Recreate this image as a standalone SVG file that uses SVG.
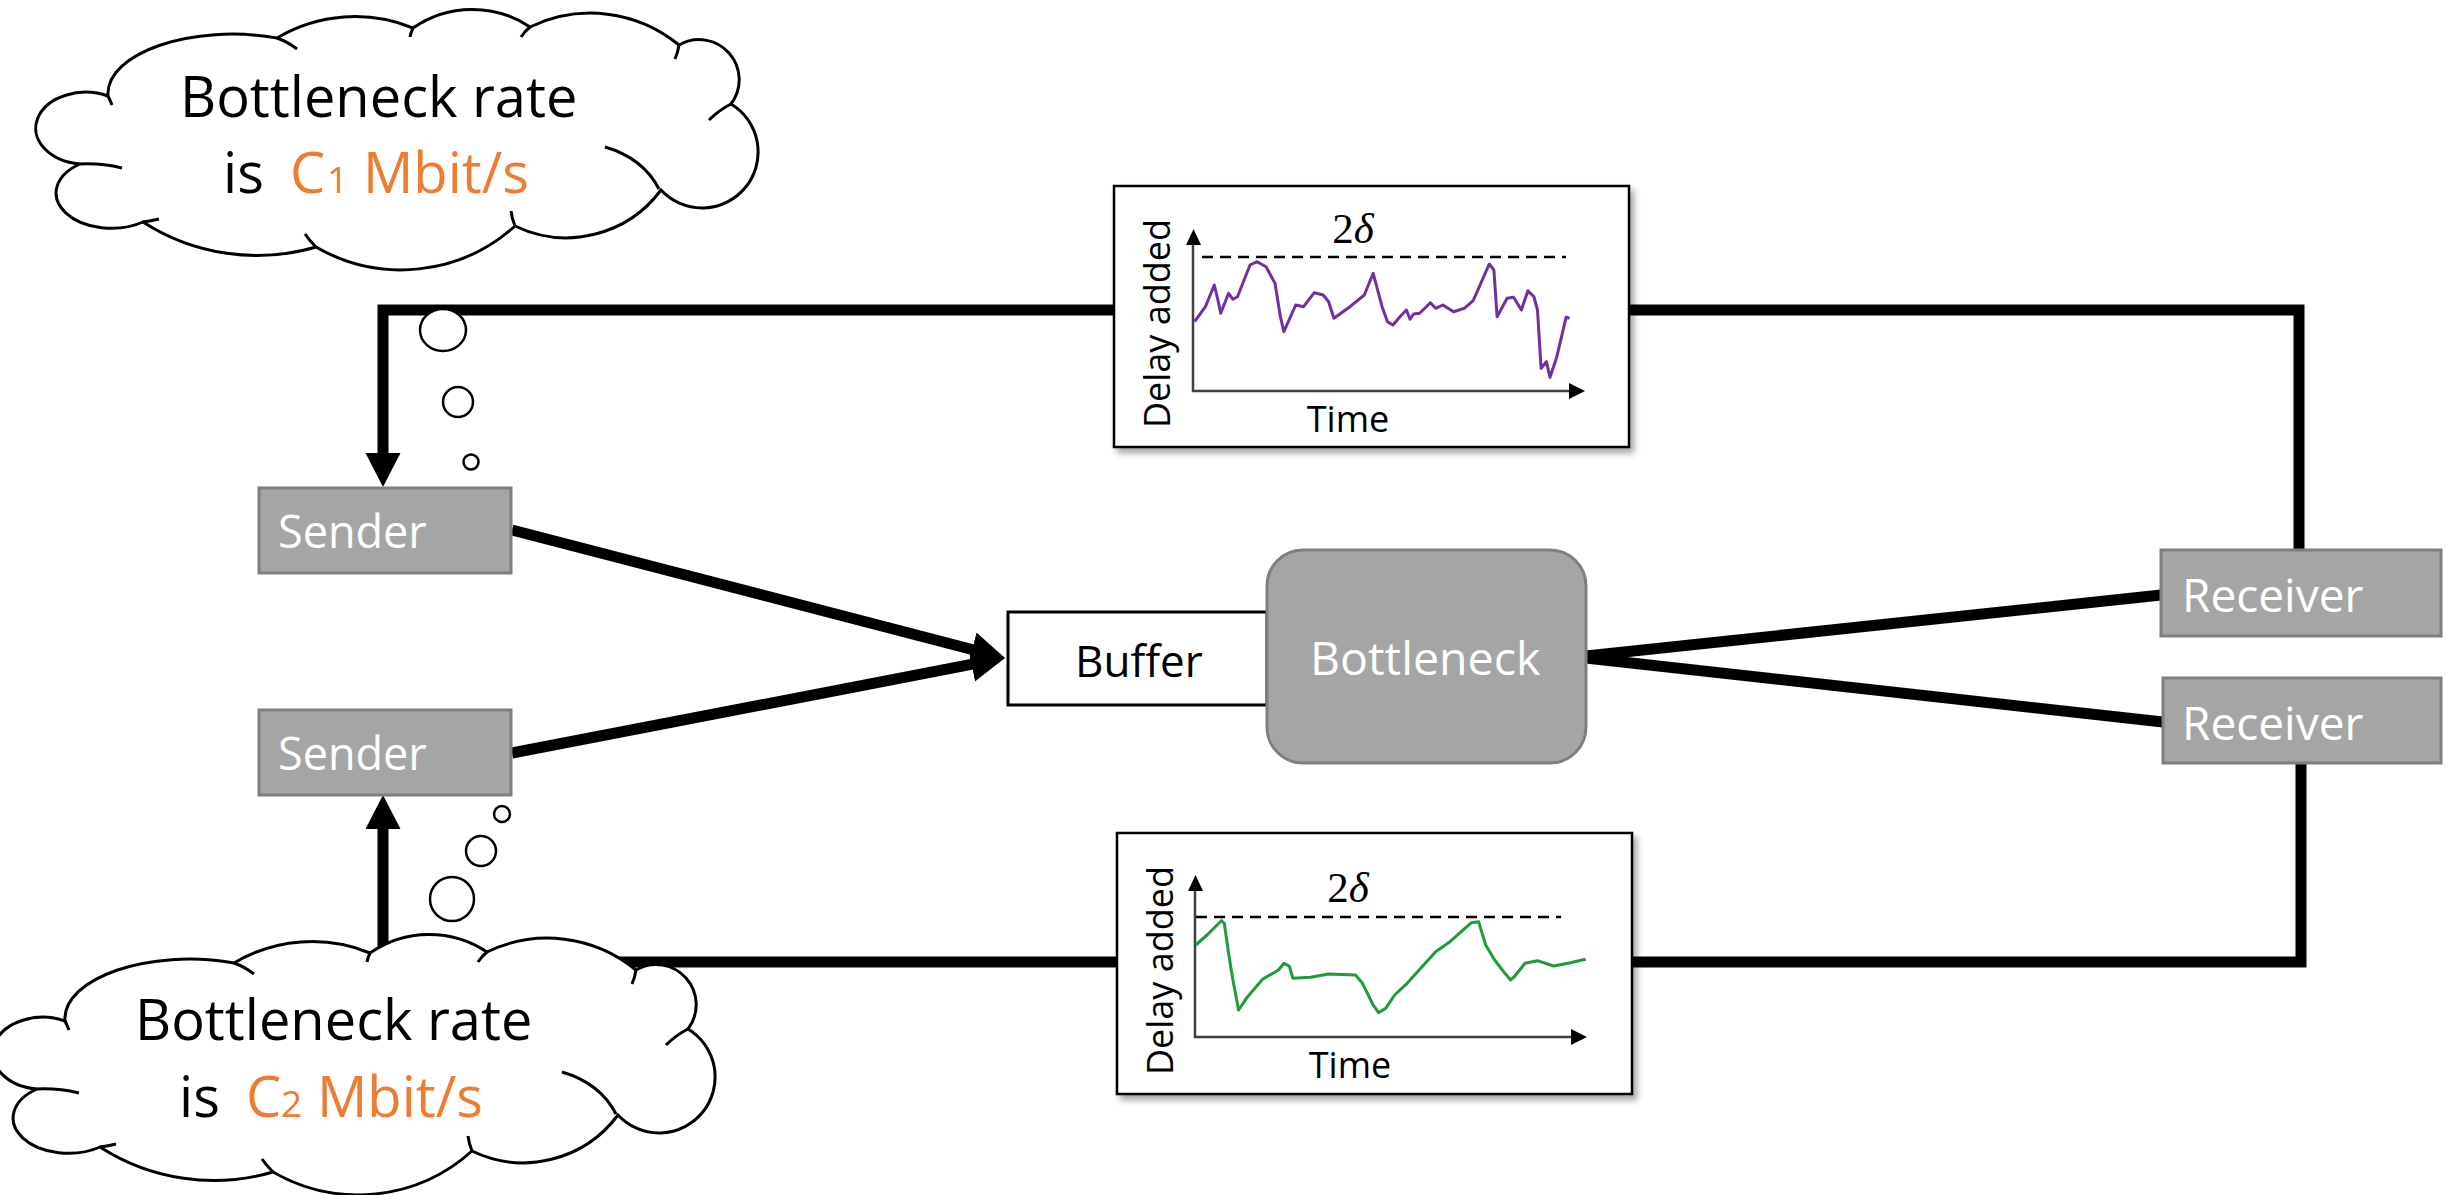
<svg xmlns="http://www.w3.org/2000/svg" width="2458" height="1195" viewBox="0 0 2458 1195">
<defs>
<style>
.conn{fill:none;stroke:#000;stroke-width:11;stroke-linejoin:miter;stroke-linecap:butt}
.gbox{fill:#A5A5A5;stroke:#7F7F7F;stroke-width:3}
.wlabel{font-family:"Open Sans","Noto Sans",sans-serif;fill:#fff}
.blabel{font-family:"Open Sans","Noto Sans",sans-serif;fill:#000}
.cloud{fill:#fff;stroke:#000;stroke-width:3}
.hook{fill:none;stroke:#000;stroke-width:3}
.bubble{fill:#fff;stroke:#000;stroke-width:2.5}
.chart{fill:#fff;stroke:#000;stroke-width:2.5}
.axis{fill:none;stroke:#404040;stroke-width:2.5}
.dash{fill:none;stroke:#000;stroke-width:2.5;stroke-dasharray:11 7}
.ctext{font-family:"Open Sans","Noto Sans",sans-serif;font-size:36px;fill:#000}
.math{font-family:"Liberation Serif","DejaVu Serif",serif;font-size:43px;fill:#000}
.orange{fill:#ED7D31}
</style>
<marker id="ah" markerUnits="userSpaceOnUse" markerWidth="40" markerHeight="40" refX="1" refY="17.5" orient="auto" viewBox="0 0 40 40">
<path d="M0,0 L34,17.5 L0,35 Z" fill="#000"/>
</marker>
<filter id="shadow" x="-10%" y="-10%" width="130%" height="130%">
<feDropShadow dx="4" dy="5" stdDeviation="3" flood-color="#000" flood-opacity="0.35"/>
</filter>
<path id="cloudShape" d="M65,88 C62,45 150,15 234,30 A153,153 0 0 1 370,20 A104,104 0 0 1 487,19 A139,139 0 0 1 636,37 A40.1,40.1 0 0 1 688,96 A56,56 0 1 1 618,182 A118,118 0 0 1 472,218 A170,170 0 0 1 273,239 A210,210 0 0 1 100,214 A55,35 0 0 1 37,156 A50,36 0 1 1 65,88 Z"/>
<path id="cloudHooks" d="M65,88 Q67,92 69,97 M234,30 Q245,34 254,41 M370,20 Q368,24 367,29 M487,19 Q482,23 478,29 M636,37 Q635,44 632,51 M688,96 Q676,102 666,112 M562,139 Q600,150 616,181 M472,218 Q469,211 468,203 M273,239 Q266,232 262,226 M100,214 Q108,213 116,211 M37,156 Q58,155 79,160"/>
</defs>
<rect x="0" y="0" width="2458" height="1195" fill="#fff"/>

<g id="connectors">
<path class="conn" d="M2299,550 V310 H383 V454" marker-end="url(#ah)"/>
<path class="conn" d="M2301,763 V962 H383 V828" marker-end="url(#ah)"/>
<path class="conn" d="M512,530 L973.1,649.7" marker-end="url(#ah)"/>
<path class="conn" d="M512,753 L972.6,664.2" marker-end="url(#ah)"/>
<path class="conn" d="M1586,656 L2161,595"/>
<path class="conn" d="M1586,658 L2163,722"/>
</g>

<g id="sender1">
<rect class="gbox" x="259" y="488" width="252" height="85"/>
<text class="wlabel" x="278" y="548" font-size="45">Sender</text>
</g>
<g id="sender2">
<rect class="gbox" x="259" y="710" width="252" height="85"/>
<text class="wlabel" x="278" y="770" font-size="45">Sender</text>
</g>
<g id="buffer">
<rect x="1008" y="612" width="259" height="93" fill="#fff" stroke="#000" stroke-width="3"/>
<text class="blabel" x="1075" y="677" font-size="44">Buffer</text>
</g>
<g id="bottleneck">
<rect class="gbox" x="1267" y="550" width="319" height="213" rx="36" ry="36"/>
<text class="wlabel" x="1310" y="675" font-size="46.5">Bottleneck</text>
</g>
<g id="receiver1">
<rect class="gbox" x="2161" y="550" width="280" height="86"/>
<text class="wlabel" x="2182" y="612" font-size="46">Receiver</text>
</g>
<g id="receiver2">
<rect class="gbox" x="2163" y="678" width="278" height="85"/>
<text class="wlabel" x="2182" y="740" font-size="46">Receiver</text>
</g>

<g id="chart-top">
<rect class="chart" x="1114" y="186" width="515" height="261" filter="url(#shadow)"/>
<path class="axis" d="M1193,243 V391 H1572"/>
<path d="M1186,245 L1193.5,229 L1201,245 Z" fill="#000"/>
<path d="M1569,383 L1585,391 L1569,399 Z" fill="#000"/>
<path class="dash" d="M1202,257 H1566"/>
<polyline fill="none" stroke="#7030A0" stroke-width="3" stroke-linejoin="round" points="1194.6,321.7 1205.4,306.7 1214.3,285 1217.9,300 1220.7,313.3 1228.6,293.3 1232.9,299.3 1237.5,296.7 1250,265 1257.1,261.7 1266,266.7 1275,283.3 1280.4,316.7 1283.9,331.7 1295.7,305 1303.6,306.7 1314.3,292.7 1323.2,295 1328.6,301.7 1333.9,318.3 1350,306.7 1364.3,295 1373.2,273.3 1382.1,306.7 1387.5,321.7 1392.9,325 1400,316.7 1406.4,310 1410,319.3 1413.6,314 1419.6,313.3 1430.4,302.7 1435.7,308.3 1442.9,305 1453.6,311.7 1464.3,308.3 1473.2,300.7 1489.3,264 1493.9,270 1497.1,316.7 1507.1,298.3 1513.6,297.3 1521.4,310 1527.9,290.7 1533.9,296.7 1537.5,310 1541.1,368.3 1546.4,361.7 1550,377.3 1556.4,358.3 1566.1,317.3 1569.6,318.3"/>
<text class="math" x="1353" y="243" text-anchor="middle">2<tspan font-style="italic">δ</tspan></text>
<text class="ctext" x="1170" y="323.5" text-anchor="middle" transform="rotate(-90 1170 323.5)">Delay added</text>
<text class="ctext" x="1348" y="432" text-anchor="middle">Time</text>
</g>

<g id="chart-bottom">
<rect class="chart" x="1117" y="833" width="515" height="261" filter="url(#shadow)"/>
<path class="axis" d="M1195,889 V1037 H1574"/>
<path d="M1188,891 L1195.5,875 L1203,891 Z" fill="#000"/>
<path d="M1571,1029 L1587,1037 L1571,1045 Z" fill="#000"/>
<path class="dash" d="M1196,917 H1561"/>
<polyline fill="none" stroke="#1E9B3C" stroke-width="3" stroke-linejoin="round" points="1195.7,945 1207.1,935 1221.4,920.7 1224.3,923.3 1228.6,953.3 1232.9,980 1238.6,1010 1246.4,998.3 1262.5,979.3 1278.6,970 1283.9,963.3 1289.3,966 1292.9,978.3 1310.7,977.3 1328.6,974 1355.4,975 1362.5,983.3 1373.2,1005 1378.6,1012.7 1385.7,1008.3 1394.6,995 1407.1,983.3 1435.7,951.7 1450,941.7 1471.4,922.7 1478.6,921.7 1485.7,945 1494.6,960 1503.6,971.7 1510.7,980 1514.3,976.7 1525,963.3 1537.5,960.7 1553.6,966 1567.9,963.3 1585.7,959.3"/>
<text class="math" x="1348" y="902" text-anchor="middle">2<tspan font-style="italic">δ</tspan></text>
<text class="ctext" x="1173" y="970.5" text-anchor="middle" transform="rotate(-90 1173 970.5)">Delay added</text>
<text class="ctext" x="1350" y="1078" text-anchor="middle">Time</text>
</g>

<g id="cloud-top">
<g transform="translate(43,8)">
<use href="#cloudShape" class="cloud"/>
<use href="#cloudHooks" class="hook"/>
<text class="blabel" x="137" y="109" font-size="56">Bottleneck rate</text>
<text class="blabel" y="185" font-size="56"><tspan x="180">is</tspan><tspan class="orange" x="247">C</tspan><tspan class="orange" x="284" font-size="37">1</tspan><tspan class="orange" x="320">Mbit/s</tspan></text>
</g>
<ellipse class="bubble" cx="443" cy="330" rx="23" ry="21"/>
<circle class="bubble" cx="458" cy="402" r="15"/>
<circle class="bubble" cx="471" cy="462" r="7.5"/>
</g>

<g id="cloud-bottom">
<g transform="translate(0,933)">
<use href="#cloudShape" class="cloud"/>
<use href="#cloudHooks" class="hook"/>
<text class="blabel" x="135" y="107" font-size="56">Bottleneck rate</text>
<text class="blabel" y="184" font-size="56"><tspan x="179">is</tspan><tspan class="orange" x="246">C</tspan><tspan class="orange" x="281" font-size="37">2</tspan><tspan class="orange" x="317">Mbit/s</tspan></text>
</g>
<circle class="bubble" cx="452" cy="899" r="22"/>
<circle class="bubble" cx="481" cy="851" r="15"/>
<circle class="bubble" cx="502" cy="814" r="8"/>
</g>
</svg>
